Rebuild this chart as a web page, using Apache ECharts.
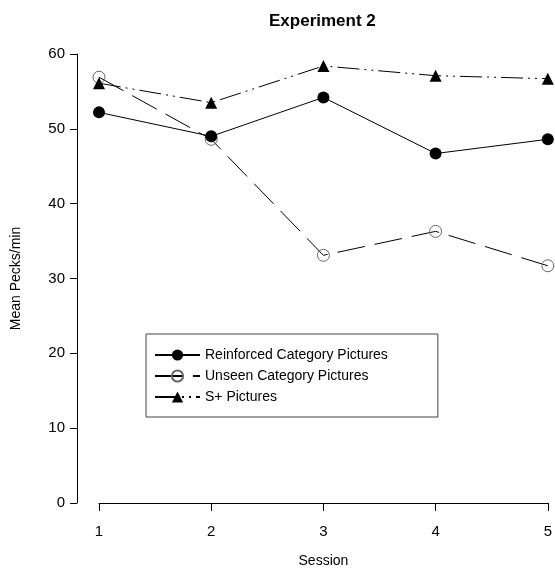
<!DOCTYPE html>
<html>
<head>
<meta charset="utf-8">
<script src="https://cdn.jsdelivr.net/npm/echarts@6/dist/echarts.min.js"></script>
<style>
  html, body { margin: 0; padding: 0; background: #fff; }
</style>
</head>
<body>
<div id="main" style="width: 555px; height: 573px"></div>
<script>
// sessions on the x axis
const sessions = ['1', '2', '3', '4', '5']
// mean pecks per minute
const reinforced = [52.2, 49.0, 54.2, 46.7, 48.6]
const unseen = [56.9, 48.6, 33.1, 36.3, 31.7]
const splus = [56.1, 53.5, 58.4, 57.1, 56.7]
const yTicks = [0, 10, 20, 30, 40, 50, 60]

const font = 'Liberation Sans, Arial, sans-serif'
var chart = echarts.init(document.getElementById('main'))

var option = {
  animation: false,
  textStyle: { fontFamily: font, color: '#000' },
  title: {
    text: 'Experiment 2',
    left: 264,
    top: 8,
    textStyle: { fontFamily: font, fontSize: 17, fontWeight: 'bold', color: '#000' }
  },
  grid: { left: 99, right: 4, top: 54, bottom: 68 },
  legend: {
    orient: 'vertical',
    left: 146,
    top: 334,
    padding: [14, 50, 13, 8],
    itemWidth: 45,
    itemHeight: 14,
    itemGap: 7,
    borderColor: '#444',
    borderWidth: 1,
    textStyle: { fontFamily: font, fontSize: 14, color: '#000' },
    data: ['Reinforced Category Pictures', 'Unseen Category Pictures', 'S+ Pictures']
  },
  xAxis: {
    type: 'category',
    data: sessions,
    boundaryGap: false,
    offset: 1,
    name: 'Session',
    nameLocation: 'middle',
    nameGap: 50,
    nameTextStyle: { fontFamily: font, fontSize: 14, color: '#000' },
    axisLine: { lineStyle: { color: '#000', width: 1 } },
    axisTick: { alignWithLabel: true, length: 8, lineStyle: { color: '#000' } },
    axisLabel: { fontFamily: font, fontSize: 15, color: '#000', margin: 20 },
    splitLine: { show: false }
  },
  yAxis: {
    type: 'value',
    min: yTicks[0],
    max: yTicks[yTicks.length - 1],
    interval: 10,
    offset: 22,
    name: 'Mean Pecks/min',
    nameLocation: 'middle',
    nameGap: 54,
    nameTextStyle: { fontFamily: font, fontSize: 14, color: '#000' },
    axisLine: { show: true, lineStyle: { color: '#000', width: 1 } },
    axisTick: { show: true, length: 7, lineStyle: { color: '#000' } },
    axisLabel: { fontFamily: font, fontSize: 15, color: '#000', margin: 12 },
    splitLine: { show: false }
  },
  series: [
    {
      name: 'Reinforced Category Pictures',
      type: 'line',
      data: reinforced,
      symbol: 'circle',
      symbolSize: 12,
      itemStyle: { color: '#000' },
      lineStyle: { color: '#000', width: 1 },
      z: 3
    },
    {
      name: 'Unseen Category Pictures',
      type: 'line',
      data: unseen,
      symbol: 'circle',
      symbolSize: 12,
      itemStyle: { color: 'rgba(255,255,255,0)', borderColor: '#666', borderWidth: 1 },
      lineStyle: { color: '#000', width: 1, type: [28, 10] },
      z: 2
    },
    {
      name: 'S+ Pictures',
      type: 'line',
      data: splus,
      symbol: 'triangle',
      symbolSize: 12,
      itemStyle: { color: '#000' },
      lineStyle: { color: '#000', width: 1, type: [22, 5, 2, 5, 2, 5] },
      z: 4
    }
  ]
}
chart.setOption(option)
</script>
</body>
</html>
